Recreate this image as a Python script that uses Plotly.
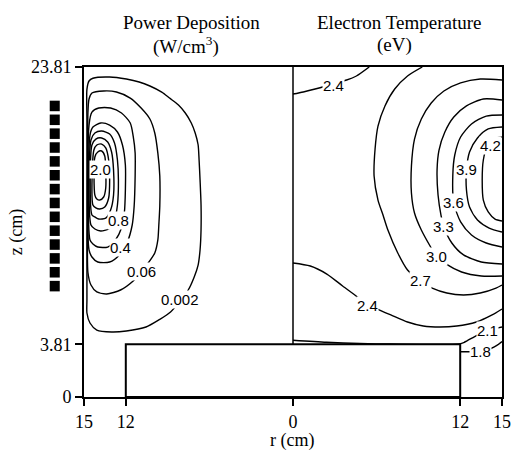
import plotly.graph_objects as go

# ---- Power deposition contours (W/cm^3), traced as (r [cm], z [cm]) ----
pd_0002 = [(14.79, 7.0), (14.79, 14.2), (14.79, 20.0), (14.79, 22.2), (14.64, 22.8), (14.36, 23.0),
           (13.16, 23.09), (11.96, 22.94), (11.04, 22.73), (10.27, 22.44), (9.42, 22.0), (8.86, 21.57),
           (8.22, 21.07), (7.73, 20.49), (7.30, 19.77), (7.02, 19.05), (6.81, 18.2), (6.74, 17.1),
           (6.67, 15.66), (6.60, 13.85), (6.60, 12.05), (6.67, 10.61), (6.81, 9.52), (7.09, 8.66),
           (7.52, 7.72), (8.79, 6.13), (9.63, 5.56), (10.55, 5.05), (11.96, 4.76), (13.02, 4.69),
           (14.08, 4.83), (14.57, 5.34), (14.79, 6.06), (14.79, 7.0)]
pd_006 = [(14.72, 9.0), (14.72, 14.2), (14.72, 20.5), (14.64, 21.5), (14.43, 21.93), (13.59, 22.08),
          (12.67, 22.01), (11.68, 21.57), (10.90, 20.85), (10.27, 20.06), (9.92, 19.05), (9.70, 17.6),
          (9.56, 15.95), (9.56, 13.78), (9.63, 12.41), (9.70, 11.33), (9.92, 10.39), (10.34, 9.74),
          (10.90, 9.02), (11.47, 8.37), (12.38, 7.72), (13.37, 7.43), (14.08, 7.58), (14.50, 8.08),
          (14.72, 9.0)]
pd_02 = [(14.64, 10.61), (14.64, 19.62), (14.43, 20.56), (13.94, 20.85), (13.09, 20.85), (12.31, 20.49),
         (11.68, 19.77), (11.47, 18.83), (11.33, 17.60), (11.33, 15.95), (11.40, 13.78), (11.54, 12.41),
         (11.89, 11.18), (12.46, 10.25), (13.16, 9.74), (14.01, 9.74), (14.43, 10.10), (14.64, 10.61)]
pd_04 = [(14.57, 11.33), (14.57, 18.90), (14.36, 19.48), (13.80, 19.77), (13.16, 19.62), (12.60, 19.12),
         (12.24, 18.18), (12.03, 16.74), (12.03, 14.94), (12.10, 13.35), (12.31, 12.19), (12.74, 11.33),
         (13.30, 10.82), (14.01, 10.82), (14.36, 11.04), (14.57, 11.33)]
pd_08 = [(14.50, 12.41), (14.50, 18.54), (14.22, 19.05), (13.73, 19.19), (13.16, 18.98), (12.81, 18.33),
         (12.60, 17.10), (12.53, 15.66), (12.60, 13.85), (12.81, 12.77), (13.23, 12.12), (13.80, 11.98),
         (14.22, 12.12), (14.50, 12.41)]
pd_12 = [(14.43, 13.13), (14.43, 18.18), (14.15, 18.61), (13.73, 18.69), (13.30, 18.40), (13.02, 17.68),
         (12.88, 16.38), (12.88, 14.57), (13.09, 13.49), (13.44, 12.91), (13.94, 12.84), (14.22, 12.99),
         (14.43, 13.13)]
pd_16 = [(14.36, 13.85), (14.29, 17.82), (14.08, 18.18), (13.73, 18.25), (13.44, 17.97), (13.23, 17.10),
         (13.16, 15.66), (13.23, 14.36), (13.51, 13.71), (13.87, 13.56), (14.15, 13.64), (14.36, 13.85)]
pd_20 = [(14.22, 14.57), (14.22, 17.32), (14.01, 17.68), (13.73, 17.75), (13.51, 17.39), (13.44, 16.38),
         (13.44, 15.08), (13.59, 14.43), (13.87, 14.21), (14.08, 14.29), (14.22, 14.57)]

# ---- Electron temperature contours (eV), traced as (r [cm], z [cm]) ----
te_18 = [(12.0, 3.27), (12.8, 3.27), (13.5, 3.27), (14.2, 3.5), (14.6, 3.7), (15.0, 4.0)]
te_21 = [(0.0, 4.1), (2.4, 3.95), (4.8, 3.86), (7.0, 3.82), (11.95, 3.83), (12.3, 3.95), (13.2, 4.45),
         (14.0, 4.8), (15.0, 5.05)]
te_24_top = [(0.0, 21.86), (0.74, 22.01), (1.59, 22.22), (2.36, 22.44), (3.07, 22.66), (3.85, 22.87),
             (4.55, 23.16), (5.47, 23.81)]
te_24_low = [(0.0, 9.67), (1.24, 9.45), (2.43, 8.87), (3.56, 8.01), (4.62, 7.22), (5.33, 6.64),
             (6.18, 6.28), (7.02, 5.92), (8.22, 5.41), (9.35, 5.12), (10.55, 5.05), (11.75, 5.12),
             (13.16, 5.41), (14.29, 5.92), (15.0, 6.35)]
te_27 = [(9.28, 23.81), (8.22, 23.16), (7.30, 22.22), (6.60, 21.0), (6.10, 19.55), (5.89, 17.89),
         (5.82, 15.95), (6.10, 14.21), (6.46, 13.13), (6.81, 12.05), (7.52, 10.39), (8.22, 9.16),
         (9.07, 8.37), (9.99, 7.86), (11.04, 7.50), (12.24, 7.36), (13.44, 7.50), (14.57, 7.86), (15.0, 8.08)]
te_30 = [(15.0, 22.87), (13.44, 22.94), (12.03, 22.66), (10.83, 22.08), (9.92, 21.21), (9.21, 20.06),
         (8.72, 18.61), (8.50, 16.67), (8.50, 14.72), (8.72, 13.28), (9.21, 12.05), (9.92, 10.75),
         (10.27, 10.17), (10.97, 9.60), (12.10, 9.02), (13.51, 8.73), (15.0, 8.73)]
te_33 = [(15.0, 21.43), (13.66, 21.50), (12.45, 21.0), (11.54, 20.20), (10.90, 19.12), (10.48, 17.82),
         (10.34, 16.38), (10.41, 14.57), (10.62, 13.13), (10.83, 12.27), (11.40, 11.11), (12.24, 10.25),
         (13.51, 9.74), (15.0, 9.60)]
te_36 = [(15.0, 20.35), (13.87, 20.27), (12.81, 19.70), (12.03, 18.76), (11.61, 17.46), (11.47, 16.02),
         (11.54, 14.0), (12.03, 12.63), (12.81, 11.69), (13.87, 11.11), (15.0, 10.82)]
te_39 = [(15.0, 19.48), (14.01, 19.34), (13.24, 18.69), (12.67, 17.68), (12.45, 16.38), (12.45, 14.94),
         (12.67, 13.71), (13.24, 12.77), (14.08, 12.19), (15.0, 11.90)]
te_42 = [(15.0, 18.76), (14.36, 18.61), (13.94, 18.11), (13.66, 17.10), (13.58, 15.66), (13.66, 14.21),
         (14.01, 13.35), (14.50, 12.84), (15.0, 12.70)]

# contour labels: (text, r, z)
pd_labels = [("2.0", 13.80, 16.45), ("0.8", 12.53, 12.77), ("0.4", 12.38, 10.82),
             ("0.06", 10.90, 9.02), ("0.002", 8.08, 7.0)]
te_labels = [("4.2", 14.15, 18.18), ("3.9", 12.45, 16.38), ("3.6", 11.54, 14.0), ("3.3", 10.83, 12.27),
             ("3.0", 10.27, 10.17), ("2.7", 9.14, 8.37), ("2.4", 2.93, 22.51), ("2.4", 5.33, 6.57),
             ("2.1", 13.94, 4.82), ("1.8", 13.45, 3.25)]

# antenna coil turns (z of each turn, cm), their radial position and half-size
coil_z = [8.0, 9.0, 10.0, 11.0, 12.0, 13.0, 14.0, 15.0, 16.0, 17.0, 18.0, 19.0, 20.0, 21.0]
coil_r = 17.1
coil_half_r = 0.36
coil_half_z = 0.38

# geometry
r_wall = 15.0
z_top = 23.81
z_base = 3.81
r_base = 12.0

x_ticks = [-15, -12, 0, 12, 15]
x_ticktext = ["15", "12", "0", "12", "15"]
y_ticks = [0, 3.81, 23.81]
y_ticktext = ["0", "3.81", "23.81"]

SERIF = "Liberation Serif, Times New Roman, serif"
SANS = "Liberation Sans, Arial, sans-serif"

fig = go.Figure()

line_style = dict(color="black", width=1.4, shape="spline", smoothing=0.7)

# left half: power deposition, drawn at negative x (r increases to the left)
for path in [pd_0002, pd_006, pd_02, pd_04, pd_08, pd_12, pd_16, pd_20]:
    fig.add_trace(go.Scatter(x=[-r for r, z in path], y=[z for r, z in path], mode="lines",
                             line=line_style, hoverinfo="skip", showlegend=False))

# right half: electron temperature
for path in [te_18, te_21, te_24_top, te_24_low, te_27, te_30, te_33, te_36, te_39, te_42]:
    fig.add_trace(go.Scatter(x=[r for r, z in path], y=[z for r, z in path], mode="lines",
                             line=line_style, hoverinfo="skip", showlegend=False))

annotations = []
for text, r, z in pd_labels:
    annotations.append(dict(x=-r, y=z, xref="x", yref="y", text=text, showarrow=False,
                            font=dict(family=SANS, size=15, color="black"),
                            bgcolor="white", borderpad=0))
for text, r, z in te_labels:
    annotations.append(dict(x=r, y=z, xref="x", yref="y", text=text, showarrow=False,
                            font=dict(family=SANS, size=15, color="black"),
                            bgcolor="white", borderpad=0))

# panel titles and axis titles
title_font = dict(family=SERIF, size=19, color="black")
annotations += [
    dict(x=0.2565, y=1.136, xref="paper", yref="paper", text="Power Deposition",
         showarrow=False, font=title_font, xanchor="center", yanchor="middle"),
    dict(x=0.245, y=1.066, xref="paper", yref="paper", text="(W/cm<sup>3</sup>)",
         showarrow=False, font=title_font, xanchor="center", yanchor="middle"),
    dict(x=0.755, y=1.136, xref="paper", yref="paper", text="Electron Temperature",
         showarrow=False, font=title_font, xanchor="center", yanchor="middle"),
    dict(x=0.7435, y=1.066, xref="paper", yref="paper", text="(eV)",
         showarrow=False, font=title_font, xanchor="center", yanchor="middle"),
    dict(x=0.4988, y=-0.131, xref="paper", yref="paper", text="r (cm)",
         showarrow=False, font=dict(family=SERIF, size=18, color="black"),
         xanchor="center", yanchor="middle"),
    dict(x=-0.162, y=0.5, xref="paper", yref="paper", text="z (cm)", textangle=-90,
         showarrow=False, font=dict(family=SERIF, size=18, color="black"),
         xanchor="center", yanchor="middle"),
]

# map a radius on the left panel (outside the wall) to paper x
def left_paper_x(r):
    return (r_wall - r) / (2 * r_wall)

shapes = [
    # substrate / pedestal
    dict(type="rect", xref="x", yref="y", x0=-r_base, x1=r_base, y0=0, y1=z_base,
         fillcolor="white", line=dict(color="black", width=2), layer="above"),
    # symmetry axis dividing the two panels
    dict(type="line", xref="x", yref="y", x0=0, x1=0, y0=z_base, y1=z_top,
         line=dict(color="black", width=1.5), layer="above"),
]
# coil turns outside the chamber wall
for zc in coil_z:
    shapes.append(dict(type="rect", xref="paper", yref="y",
                       x0=left_paper_x(coil_r + coil_half_r), x1=left_paper_x(coil_r - coil_half_r),
                       y0=zc - coil_half_z, y1=zc + coil_half_z,
                       fillcolor="black", line=dict(width=0), layer="above"))

axis_common = dict(showgrid=False, zeroline=False, showline=True, mirror=True,
                   linecolor="black", linewidth=2, ticks="outside", ticklen=7,
                   tickwidth=1.5, tickcolor="black",
                   tickfont=dict(family=SERIF, size=18, color="black"))

fig.update_layout(
    width=523, height=451,
    margin=dict(l=84, r=14, t=67, b=54),
    paper_bgcolor="white", plot_bgcolor="white",
    xaxis=dict(range=[-r_wall, r_wall], tickmode="array", tickvals=x_ticks, ticktext=x_ticktext,
               **axis_common),
    yaxis=dict(range=[0, z_top], tickmode="array", tickvals=y_ticks, ticktext=y_ticktext,
               **axis_common),
    annotations=annotations,
    shapes=shapes,
    showlegend=False,
)

fig.write_html("out.html")
